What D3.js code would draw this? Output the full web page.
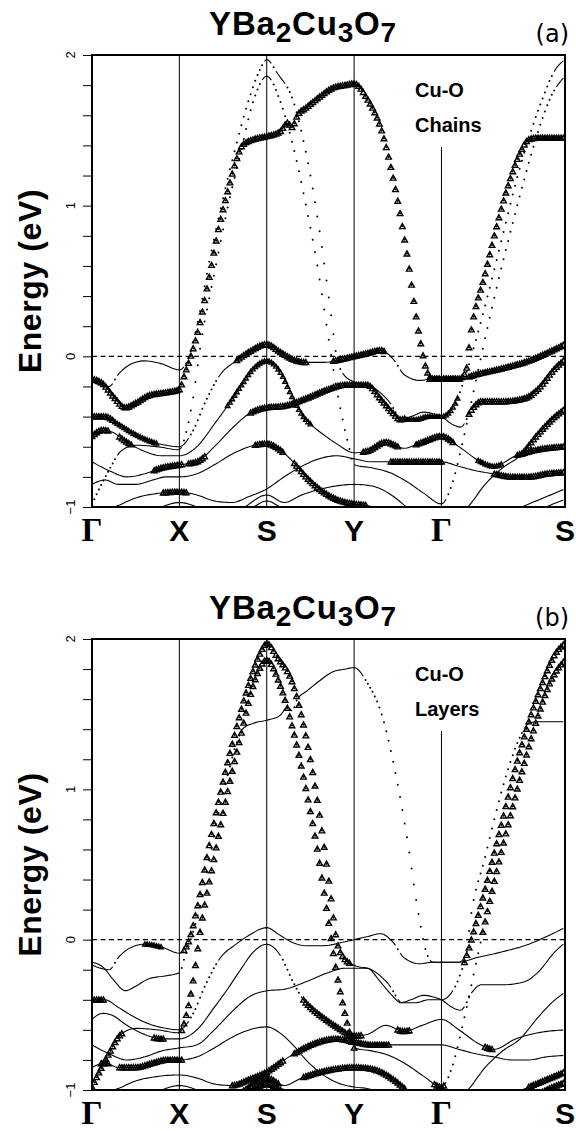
<!DOCTYPE html>
<html><head><meta charset="utf-8">
<script src="https://cdn.jsdelivr.net/npm/d3@7"></script>
<style>body{margin:0;background:#fff}svg{display:block}</style>
</head><body>
<svg id="chart" width="576" height="1131"></svg>
<script>
// ---------------- data ----------------
const kLabels = ["Γ","X","S","Y","Γ","S"];
const kPoints = [0, 1, 2, 3, 4, 5.414];
const yMajorTicks = [-1, 0, 1, 2];
const yMinorTicks = [-1,-0.8,-0.6,-0.4,-0.2,0,0.2,0.4,0.6,0.8,1,1.2,1.4,1.6,1.8,2];
const panelTags = ["(a)", "(b)"];
const panelNotes = [["Cu-O","Chains"], ["Cu-O","Layers"]];

// bands: [k, E(eV)]
const bandC = [[0,-0.15],[0.12,-0.18],[0.25,-0.27],[0.38,-0.34],[0.5,-0.31],[0.65,-0.26],[0.85,-0.24],[1.0,-0.22],[1.06,-0.12],[1.13,0.0],[1.21,0.16],[1.35,0.55],[1.45,0.85],[1.56,1.11],[1.65,1.3],[1.72,1.4],[1.85,1.44],[2.0,1.46],[2.15,1.49],[2.24,1.55],[2.29,1.52],[2.35,1.6],[2.45,1.65],[2.6,1.72],[2.75,1.78],[2.9,1.8],[3.0,1.81],[3.15,1.71],[3.32,1.49],[3.47,1.12],[3.6,0.7],[3.74,0.16],[3.83,-0.09],[3.9,-0.15],[4.0,-0.15],[4.2,-0.15],[4.28,-0.1],[4.33,0.13],[4.5,0.55],[4.75,1.11],[4.9,1.35],[5.0,1.44],[5.1,1.45],[5.414,1.45]];
const bandPu = [[0,-0.17],[0.1,-0.19],[0.2,-0.2],[0.3,-0.12],[0.42,-0.06],[0.6,-0.03],[0.8,-0.05],[1.0,-0.09],[1.1,-0.02],[1.2,0.2],[1.35,0.65],[1.5,1.05],[1.64,1.38],[1.81,1.73],[1.92,1.9],[2.0,1.97],[2.12,1.88],[2.3,1.7],[2.45,1.35],[2.6,0.85],[2.72,0.35],[2.8,0.0],[2.88,-0.12],[3.0,-0.17],[3.2,-0.2],[3.4,-0.3],[3.55,-0.42],[3.7,-0.42],[3.85,-0.4],[4.0,-0.4],[4.15,-0.32],[4.28,-0.12],[4.4,0.12],[4.55,0.45],[4.7,0.8],[4.85,1.15],[5.0,1.45],[5.15,1.7],[5.3,1.9],[5.414,1.97]];
const bandPl = [[0,-0.98],[0.1,-0.86],[0.2,-0.75],[0.33,-0.63],[0.5,-0.59],[0.75,-0.6],[1.0,-0.62],[1.08,-0.5],[1.15,-0.3],[1.25,0.1],[1.4,0.55],[1.55,0.98],[1.7,1.35],[1.85,1.7],[2.0,1.86],[2.15,1.7],[2.3,1.4],[2.45,1.0],[2.58,0.6],[2.7,0.15],[2.78,-0.15],[2.88,-0.45],[2.95,-0.62],[3.0,-0.72],[3.2,-0.74],[3.4,-0.77],[3.6,-0.83],[3.8,-0.91],[4.0,-0.98],[4.12,-0.85],[4.25,-0.55],[4.38,-0.2],[4.5,0.12],[4.65,0.5],[4.8,0.85],[4.95,1.18],[5.1,1.48],[5.25,1.72],[5.414,1.86]];
const bandL1 = [[0,-0.4],[0.15,-0.4],[0.3,-0.45],[0.5,-0.52],[0.7,-0.57],[0.85,-0.59],[1.0,-0.6],[1.15,-0.5],[1.3,-0.3],[1.47,-0.12],[1.65,-0.03],[1.8,0.03],[2.0,0.08],[2.15,0.03],[2.3,-0.02],[2.45,-0.04],[2.65,-0.04],[2.85,-0.02],[3.0,0.0],[3.15,0.02],[3.3,0.04],[3.45,-0.02],[3.57,-0.12],[3.75,-0.16],[3.9,-0.15],[4.0,-0.15],[4.2,-0.15],[4.4,-0.12],[4.7,-0.08],[5.0,-0.03],[5.2,0.02],[5.414,0.08]];
const bandL2 = [[0,-0.53],[0.12,-0.49],[0.22,-0.5],[0.4,-0.57],[0.6,-0.63],[0.8,-0.66],[1.0,-0.66],[1.2,-0.6],[1.4,-0.45],[1.55,-0.33],[1.7,-0.2],[1.85,-0.08],[2.0,-0.03],[2.15,-0.1],[2.3,-0.28],[2.42,-0.4],[2.52,-0.46],[2.65,-0.52],[2.8,-0.58],[3.0,-0.64],[3.15,-0.63],[3.36,-0.57],[3.57,-0.61],[3.78,-0.57],[4.0,-0.53],[4.2,-0.6],[4.45,-0.7],[4.6,-0.73],[4.85,-0.66],[5.1,-0.62],[5.414,-0.6]];
const bandL3 = [[0,-0.7],[0.2,-0.76],[0.4,-0.8],[0.6,-0.78],[0.8,-0.74],[1.0,-0.72],[1.2,-0.7],[1.4,-0.6],[1.6,-0.48],[1.8,-0.38],[2.0,-0.34],[2.2,-0.33],[2.45,-0.28],[2.7,-0.22],[2.9,-0.19],[3.0,-0.19],[3.15,-0.19],[3.3,-0.28],[3.45,-0.38],[3.53,-0.42],[3.65,-0.4],[3.8,-0.37],[3.9,-0.38],[4.0,-0.4],[4.12,-0.45],[4.22,-0.47],[4.35,-0.35],[4.45,-0.3],[4.7,-0.3],[4.95,-0.28],[5.1,-0.22],[5.3,-0.08],[5.414,-0.02]];
const bandL4 = [[0,-0.85],[0.15,-0.82],[0.3,-0.85],[0.5,-0.85],[0.7,-0.82],[0.85,-0.8],[1.0,-0.8],[1.2,-0.78],[1.4,-0.72],[1.6,-0.65],[1.8,-0.6],[2.0,-0.58],[2.15,-0.62],[2.3,-0.7],[2.45,-0.8],[2.6,-0.88],[2.8,-0.95],[3.0,-0.98],[3.15,-0.99],[3.3,-1.02],[3.5,-1.06],[3.8,-1.1],[4.0,-1.1],[4.3,-1.0],[4.5,-0.85],[4.7,-0.74],[4.9,-0.66],[5.1,-0.52],[5.3,-0.4],[5.414,-0.35]];
const bandL5 = [[0,-1.05],[0.3,-0.99],[0.5,-0.94],[0.75,-0.91],[1.0,-0.9],[1.2,-0.92],[1.4,-0.96],[1.6,-0.97],[1.8,-0.93],[2.0,-0.88],[2.2,-0.8],[2.4,-0.73],[2.6,-0.68],[2.8,-0.66],[3.0,-0.68],[3.2,-0.7],[3.4,-0.7],[3.6,-0.7],[3.8,-0.7],[4.0,-0.7],[4.2,-0.73],[4.4,-0.76],[4.6,-0.78],[4.8,-0.8],[5.0,-0.8],[5.2,-0.78],[5.414,-0.77]];
const bandL6 = [[0,-1.2],[0.5,-1.1],[0.8,-1.0],[1.0,-0.97],[1.2,-1.0],[1.5,-1.1],[1.75,-1.0],[2.0,-0.92],[2.2,-0.97],[2.4,-0.92],[2.7,-0.87],[3.0,-0.85],[3.2,-0.86],[3.45,-0.93],[3.6,-1.0],[3.8,-1.08],[4.0,-1.15],[4.5,-1.1],[5.0,-0.98],[5.414,-0.88]];
const bandL7 = [[0,-1.3],[1.0,-1.2],[1.6,-1.1],[1.85,-1.0],[2.0,-0.96],[2.15,-1.0],[2.4,-1.1],[3.0,-1.2],[4.0,-1.3],[4.9,-1.1],[5.2,-1.0],[5.414,-0.95]];

const bands = {C: bandC, Pu: bandPu, Pl: bandPl, L1: bandL1, L2: bandL2, L3: bandL3, L4: bandL4, L5: bandL5, L6: bandL6, L7: bandL7};

// orbital-character weights: [band, kFrom, kTo, size]
const weightsChains = [["C",0,5.414,1],
  ["L1",0,0.25,1],["L1",0.25,0.75,0.8],["L1",1.65,2.45,1],["L1",2.75,3.35,1],["L1",3.85,4.2,1],["L1",4.3,5.414,1],
  ["L2",0,0.2,1],["L2",0.3,0.45,1],["L2",1.55,2.0,0.8],["L2",2.0,2.5,0.8],["L2",3.1,3.5,1],["L2",3.7,4.15,1],["L2",4.4,4.7,0.8],["L2",4.85,5.414,1],
  ["L3",0.7,1.05,1],["L3",1.1,1.3,1],["L3",1.8,2.3,1],["L3",2.3,3.6,1],["L3",4.3,5.414,1],
  ["L4",1.85,2.2,1],["L4",2.3,3.15,1],["L4",4.9,5.414,1],
  ["L5",0.8,1.1,1],["L5",3.4,4.0,1],["L5",4.6,5.414,1],
  ["Pu",3.6,4.2,0.8]];
const weightsLayers = [["Pu",0.6,0.8,0.8],["Pu",1.05,2.95,1],["Pu",4.25,5.414,1],
  ["Pl",0,0.35,1],["Pl",1.02,3.0,1],["Pl",3.9,4.05,1],["Pl",4.45,5.414,1],
  ["L1",0,0.15,1],["L2",0.7,0.84,1],["L4",0.1,0.2,1],["L4",0.3,1.05,1],
  ["L2",2.4,3.1,1],["L2",3.5,3.65,1],["L2",4.5,4.6,1],
  ["L5",1.6,2.2,1],["L5",2.3,3.4,1],["L6",1.6,2.15,1],["L7",1.7,2.2,1],["L6",2.4,3.6,1],["L6",5.0,5.414,1],["L7",5.0,5.414,1]];
const panelWeights = [weightsChains, weightsLayers];

// ---------------- layout ----------------
const svg = d3.select("#chart");
const plotLeft = 92, plotRight = 565;
const panelTops = [55, 639], panelBottoms = [507, 1090];
const sansBold = "'Liberation Sans', Arial, Helvetica, sans-serif";

const tmpLayer = svg.append("g").attr("visibility","hidden");

function sampleCurve(pts, xs, ys, step){
  const gen = d3.line().x(d=>xs(d[0])).y(d=>ys(d[1])).curve(d3.curveMonotoneX);
  const p = tmpLayer.append("path").attr("d", gen(pts)).node();
  const len = p.getTotalLength();
  const lut = [];
  for (let s=0; s<=len; s+=0.35){ const q=p.getPointAtLength(s); lut.push([q.x,q.y]); }
  const qe = p.getPointAtLength(len); lut.push([qe.x,qe.y]);
  const x0 = xs(pts[0][0]), x1 = xs(pts[pts.length-1][0]);
  const out = [];
  let j = 0;
  for (let x=x0; x<=x1+0.01; x+=step){
    while (j<lut.length-2 && lut[j+1][0] < x) j++;
    const a=lut[j], b=lut[j+1];
    const t = (b[0]-a[0])>1e-6 ? Math.max(0,Math.min(1,(x-a[0])/(b[0]-a[0]))) : 0;
    out.push({x:x, y:a[1]+(b[1]-a[1])*t, k:xs.invert(x)});
  }
  return out;
}

function drawPanel(i){
  const top = panelTops[i], bottom = panelBottoms[i];
  const x = d3.scaleLinear().domain([kPoints[0], kPoints[kPoints.length-1]]).range([plotLeft, plotRight]);
  const y = d3.scaleLinear().domain([-1, 2]).range([bottom, top]);
  const g = svg.append("g");

  const clipId = "clip"+i;
  svg.append("clipPath").attr("id", clipId).append("rect")
    .attr("x", plotLeft).attr("y", top).attr("width", plotRight-plotLeft).attr("height", bottom-top);

  // title
  const t = g.append("text").attr("x", 303).attr("y", top-20)
    .attr("text-anchor","middle").attr("font-family", sansBold).attr("font-weight","bold")
    .attr("font-size", 33).attr("letter-spacing", 0.8);
  const parts = [["YBa",0],["2",1],["Cu",0],["3",1],["O",0],["7",1]];
  let low = false;
  parts.forEach(([s,sub])=>{
    const ts = t.append("tspan").text(s);
    if (sub && !low){ ts.attr("dy", 7).attr("font-size", 28); low = true; }
    else if (sub){ ts.attr("font-size", 28); }
    else if (low){ ts.attr("dy", -7); low = false; }
  });
  g.append("text").attr("x", 569).attr("y", top-13).attr("text-anchor","end")
    .attr("font-family","'DejaVu Sans', sans-serif").attr("font-size", 24).text(panelTags[i]);

  // y axis ticks & labels
  const axis = d3.axisLeft(y).tickValues(yMinorTicks).tickSize(9).tickFormat("");
  g.append("g").attr("transform", `translate(${plotLeft},0)`).call(axis)
    .call(s=>s.select(".domain").remove())
    .call(s=>s.selectAll("line").attr("stroke","#000").attr("stroke-width",1));
  yMajorTicks.forEach(v=>{
    g.append("text").attr("transform", `translate(75,${y(v)}) rotate(-90)`)
      .attr("text-anchor","middle").attr("font-family","'Liberation Sans', sans-serif")
      .attr("font-size", 13).text(v<0 ? "\u2212"+Math.abs(v) : String(v));
  });
  g.append("text").attr("transform", `translate(41,${(top+bottom)/2}) rotate(-90)`)
    .attr("text-anchor","middle").attr("font-family", sansBold).attr("font-weight","bold")
    .attr("font-size", 32).attr("letter-spacing", 0.6).text("Energy (eV)");

  // k labels
  kLabels.forEach((lab, j)=>{
    const isG = lab === "Γ";
    g.append("text").attr("x", x(kPoints[j])).attr("y", bottom+34)
      .attr("text-anchor","middle")
      .attr("font-family", isG ? "'Liberation Serif', 'DejaVu Serif', serif" : sansBold)
      .attr("font-weight","bold").attr("font-size", isG ? 33 : 30).text(lab);
  });

  // vertical symmetry lines
  kPoints.slice(1, kPoints.length-1).forEach((kp, j)=>{
    const yStart = (j === 3) ? top + 92 : top;
    g.append("line").attr("x1", x(kp)).attr("x2", x(kp)).attr("y1", yStart).attr("y2", bottom)
      .attr("stroke","#000").attr("stroke-width",1);
  });

  // notes
  panelNotes[i].forEach((s, j)=>{
    g.append("text").attr("x", 415).attr("y", top + 42 + j*35)
      .attr("font-family", sansBold).attr("font-weight","bold").attr("font-size", 20).text(s);
  });

  // Fermi level
  g.append("line").attr("x1", plotLeft).attr("x2", plotRight).attr("y1", y(0)).attr("y2", y(0))
    .attr("stroke","#000").attr("stroke-width",1.2).attr("stroke-dasharray","5,3.5");

  // bands
  const bg = g.append("g").attr("clip-path", `url(#${clipId})`);
  const step = (x(1)-x(0))/38;
  const weights = panelWeights[i];
  Object.keys(bands).forEach(name=>{
    const s = sampleCurve(bands[name], x, y, step);
    const path = d3.path();
    const linked = s.map(()=>false);
    for (let m=0; m<s.length-1; m++){
      if (Math.abs(s[m+1].y - s[m].y) < 3.6){
        path.moveTo(s[m].x, s[m].y); path.lineTo(s[m+1].x, s[m+1].y);
        linked[m] = true; linked[m+1] = true;
      }
    }
    bg.append("path").attr("d", path.toString()).attr("stroke","#000").attr("stroke-width",1.1).attr("fill","none");
    bg.append("g").selectAll("circle").data(s.filter((d,m)=>!linked[m])).join("circle")
      .attr("cx", d=>d.x).attr("cy", d=>d.y).attr("r", 1.0).attr("fill","#000");
    const ws = weights.filter(w=>w[0]===name);
    const marked = s.map(d=>{ const w = ws.find(w=> d.k>=w[1]-1e-6 && d.k<=w[2]+1e-6); return w ? {x:d.x, y:d.y, w:w[3]} : null; }).filter(Boolean);
    bg.append("g").selectAll("path").data(marked).join("path")
      .attr("d", d=>{ const h=2.8*d.w; return `M0,${-h}L${h},${h*0.8}L${-h},${h*0.8}Z`; })
      .attr("transform", d=>`translate(${d.x},${d.y})`)
      .attr("fill","none").attr("stroke","#000").attr("stroke-width",1.4);
  });

  // frame
  g.append("rect").attr("x", plotLeft).attr("y", top).attr("width", plotRight-plotLeft).attr("height", bottom-top)
    .attr("fill","none").attr("stroke","#000").attr("stroke-width",2);
}
drawPanel(0);
drawPanel(1);
tmpLayer.remove();
</script>
</body></html>
